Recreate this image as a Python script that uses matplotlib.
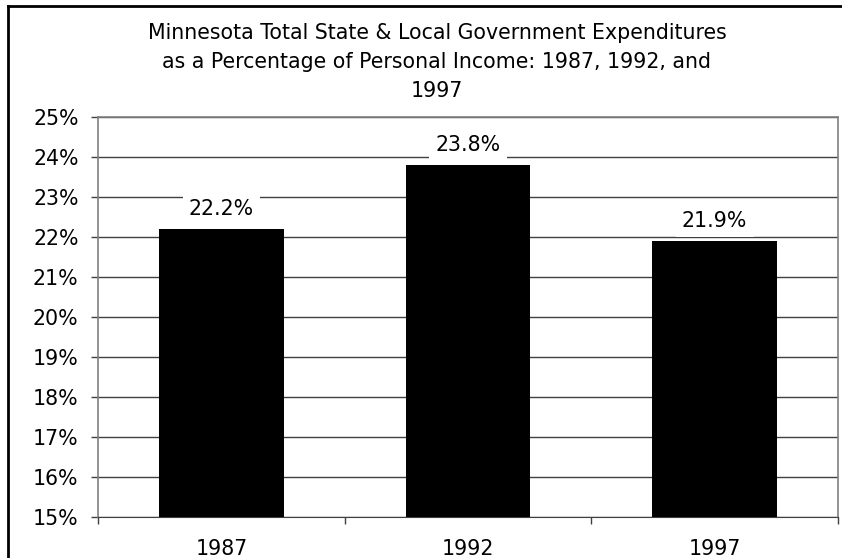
import matplotlib.pyplot as plt
from matplotlib.lines import Line2D

# data
years = ["1987", "1992", "1997"]
pct = [22.2, 23.8, 21.9]
y_ticks = list(range(15, 26))

TITLE = ("Minnesota Total State & Local Government Expenditures\n"
         "as a Percentage of Personal Income: 1987, 1992, and\n"
         "1997")
FS = 14.8

fig = plt.figure(figsize=(8.42, 5.58), dpi=100)
W, H = 842, 558
ax = fig.add_axes([98 / W, 1 - 517 / H, (838 - 98) / W, (517 - 117) / H])

x = list(range(len(years)))
ax.bar(x, [p - 15 for p in pct], bottom=15, width=0.505, color="black", zorder=3)

ax.set_xlim(-0.5, len(years) - 0.5)
ax.set_ylim(15, 25)
ax.set_yticks(y_ticks)
ax.set_yticklabels([f"{t}%" for t in y_ticks], fontsize=FS)
ax.set_xticks(x)
ax.set_xticklabels(years, fontsize=FS)
ax.set_xticks([i - 0.5 for i in range(len(years) + 1)], minor=True)
ax.tick_params(axis="x", which="major", length=0, pad=16)
ax.tick_params(axis="x", which="minor", length=5, color="#404040", width=1)
ax.tick_params(axis="y", length=5, pad=9, color="#404040", width=1)
ax.grid(axis="y", color="#404040", linewidth=1, zorder=1)

for side in ["top", "right", "left"]:
    ax.spines[side].set_color("#808080")
    ax.spines[side].set_linewidth(1.2)
ax.spines["bottom"].set_color("#404040")

for xi, p in zip(x, pct):
    ax.annotate(f"{p}%", (xi, p), xytext=(0, 7), textcoords="offset points",
                ha="center", va="bottom", fontsize=FS, zorder=4,
                bbox=dict(facecolor="white", edgecolor="none", pad=4.5))

fig.text(437 / W, 1 - 23 / H, TITLE, ha="center", va="top", fontsize=FS,
         linespacing=1.56)

# outer frame of the embedded chart (runs off the right and bottom edges)
fig.add_artist(Line2D([8 / W, 1.0], [1 - 6 / H, 1 - 6 / H], color="black",
                      linewidth=2, transform=fig.transFigure))
fig.add_artist(Line2D([8 / W, 8 / W], [1 - 6 / H, 0.0], color="black",
                      linewidth=2, transform=fig.transFigure))

fig.savefig("out.png", dpi=100)
